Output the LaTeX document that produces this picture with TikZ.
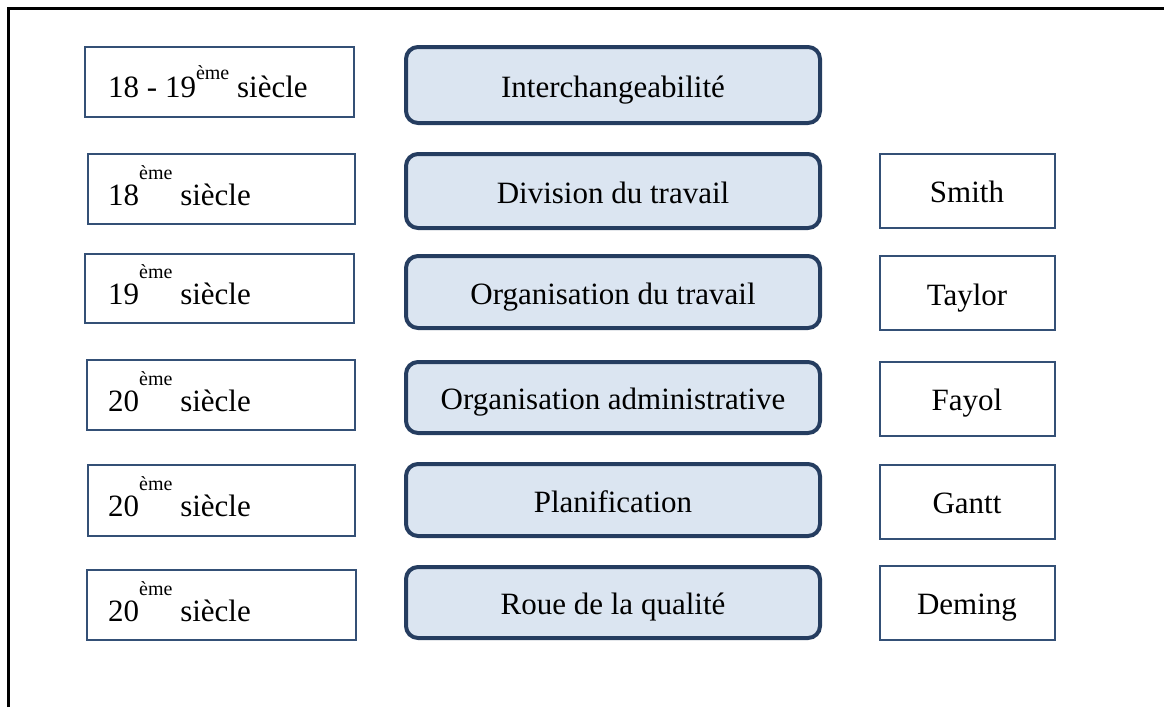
\documentclass[tikz,border=0pt]{standalone}
\usepackage{fontspec}
\setmainfont{Liberation Serif}
\definecolor{thinb}{RGB}{52,80,118}
\definecolor{midb}{RGB}{37,61,96}
\definecolor{midf}{RGB}{219,229,241}
\newcommand\emeSmall{\raisebox{18pt}{\fontsize{20}{20}\selectfont ème}}
\newcommand\emeBig{\raisebox{26pt}{\fontsize{20}{20}\selectfont ème}}
\begin{document}
\begin{tikzpicture}[x=1pt,y=-1pt,
  thinbox/.style={draw=thinb, line width=2pt, fill=white, inner sep=0pt},
  midbox/.style={draw=midb, fill=midf, line width=4pt, rounded corners=12pt, inner sep=0pt,
                 minimum width=414pt},
  rightbox/.style={thinbox, minimum width=175pt},
  leftbox/.style={thinbox},
  lbl/.style={anchor=base, inner sep=0pt, font=\fontsize{31}{36}\selectfont},
  lbll/.style={anchor=base west, inner sep=0pt, font=\fontsize{31}{36}\selectfont}
]
\useasboundingbox (0,0) rectangle (1164,707);
\draw[line width=2.5pt] (8.5,707) -- (8.5,8.5) -- (1164,8.5);

% left boxes
\node[leftbox, minimum width=269pt, minimum height=70pt] (L1) at (219.5,82) {};
\node[leftbox, minimum width=267pt, minimum height=70pt] (L2) at (221.5,189) {};
\node[leftbox, minimum width=269pt, minimum height=69pt] (L3) at (219.5,288.5) {};
\node[leftbox, minimum width=268pt, minimum height=70pt] (L4) at (221,395) {};
\node[leftbox, minimum width=267pt, minimum height=71pt] (L5) at (221.5,500.5) {};
\node[leftbox, minimum width=269pt, minimum height=70pt] (L6) at (221.5,605) {};

\node[lbll] (tL1) at (108,97) {18 - 19\emeSmall{} siècle};
\node[lbll] (tL2) at (108,205) {18\emeBig{} siècle};
\node[lbll] (tL3) at (108,304) {19\emeBig{} siècle};
\node[lbll] (tL4) at (108,411) {20\emeBig{} siècle};
\node[lbll] (tL5) at (108,516) {20\emeBig{} siècle};
\node[lbll] (tL6) at (108,621) {20\emeBig{} siècle};

% middle boxes
\node[midbox, minimum height=76pt] (M1) at (613,85) {};
\node[midbox, minimum height=74pt] (M2) at (613,191) {};
\node[midbox, minimum height=72pt] (M3) at (613,292) {};
\node[midbox, minimum height=71pt] (M4) at (613,397.5) {};
\node[midbox, minimum height=72pt] (M5) at (613,500) {};
\node[midbox, minimum height=71pt] (M6) at (613,602.5) {};

\node[lbl] (tM1) at (613,97) {Interchangeabilité};
\node[lbl] (tM2) at (613,203) {Division du travail};
\node[lbl] (tM3) at (613,304) {Organisation du travail};
\node[lbl] (tM4) at (613,409) {Organisation administrative};
\node[lbl] (tM5) at (613,512) {Planification};
\node[lbl] (tM6) at (613,614) {Roue de la qualité};

% right boxes
\node[rightbox, minimum height=74pt] (R2) at (967,191) {};
\node[rightbox, minimum height=74pt] (R3) at (967,292.5) {};
\node[rightbox, minimum height=74pt] (R4) at (967,399) {};
\node[rightbox, minimum height=74pt] (R5) at (967,502) {};
\node[rightbox, minimum height=74pt] (R6) at (967,603) {};

\node[lbl] (tR2) at (967,202) {Smith};
\node[lbl] (tR3) at (967,305) {Taylor};
\node[lbl] (tR4) at (967,410) {Fayol};
\node[lbl] (tR5) at (967,513) {Gantt};
\node[lbl] (tR6) at (967,614) {Deming};
\end{tikzpicture}
\end{document}
